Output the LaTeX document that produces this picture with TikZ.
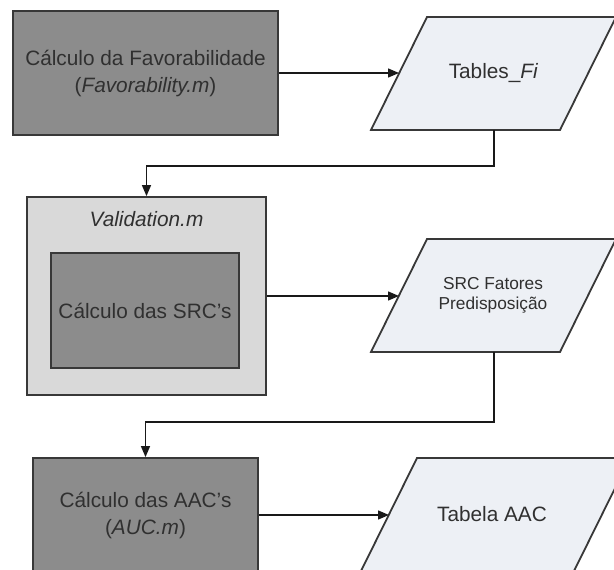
\documentclass[tikz,border=0pt]{standalone}
\usepackage{fontspec}
\setmainfont{Liberation Sans}
\usetikzlibrary{arrows.meta}
\definecolor{procfill}{HTML}{8C8C8C}
\definecolor{groupfill}{HTML}{D9D9D9}
\definecolor{datafill}{HTML}{EDF0F5}
\definecolor{edgecol}{HTML}{383838}
\definecolor{textcol}{HTML}{303030}

\begin{document}
\begin{tikzpicture}[x=1pt,y=-1pt,
  proc/.style={draw=edgecol, line width=1.8pt, fill=procfill, text=textcol,
    align=center, inner sep=0pt, font=\fontsize{20.8}{27}\selectfont},
  group/.style={draw=edgecol, line width=1.8pt, fill=groupfill, inner sep=0pt},
  data/.style={draw=edgecol, line width=1.8pt, fill=datafill, line join=miter},
  datatext/.style={text=textcol, align=center, inner sep=0pt},
  bigtext/.style={font=\fontsize{20.8}{27}\selectfont},
  bigitalic/.style={font=\fontsize{20.8}{27}\selectfont\itshape},
  smalltext/.style={font=\fontsize{17.3}{20}\selectfont},
  flow/.style={draw=black!90, line width=1.4pt, -{Triangle[length=11pt,width=9pt]}},
]
% page area
\clip (0,0) rectangle (614,570);
\fill[white] (0,0) rectangle (614,570);

% favourability step and its output table
\node[proc, minimum width=265pt, minimum height=124pt] (fav) at (145.5,73)
  {Cálculo da Favorabilidade\\(\textit{Favorability.m})};
\draw[data] (427,17) -- (616,17) -- (560,130) -- (371,130) -- cycle;
\node[datatext, bigtext] (tab) at (493.5,73) {Tables\_\textit{Fi}};
\coordinate (tabin) at (399,73);
\coordinate (tabout) at (494,130);
\coordinate (bend1) at (494,166);

% validation group with the SRC step
\node[group, minimum width=239pt, minimum height=198pt] (valid) at (146.5,296) {};
\node[datatext, bigitalic] (validname) at (146.5,219) {Validation.m};
\node[proc, minimum width=188pt, minimum height=115pt] (src) at (145,310.5)
  {Cálculo das SRC’s};
\draw[data] (427,239) -- (616,239) -- (560,352) -- (371,352) -- cycle;
\node[datatext, smalltext] (srcdata) at (493,295.5) {SRC Fatores\\Predisposição};
\coordinate (srcin) at (399,296);
\coordinate (srcout) at (494,352);
\coordinate (bend2) at (494,422);

% AUC step and its output table
\node[proc, minimum width=225pt, minimum height=114pt] (auc) at (145.5,515)
  {Cálculo das AAC’s\\(\textit{AUC.m})};
\draw[data] (417,458) -- (630,458) -- (574,571) -- (361,571) -- cycle;
\node[datatext, bigtext] (aac) at (492,514) {Tabela AAC};
\coordinate (aacin) at (389,515);

% connectors
\draw[flow] (fav.east) -- (tabin);
\draw[flow] (tabout) -- (bend1) -| (valid.north);
\draw[flow] (valid.east) -- (srcin);
\draw[flow] (srcout) -- (bend2) -| (auc.north);
\draw[flow] (auc.east) -- (aacin);
\end{tikzpicture}
\end{document}
